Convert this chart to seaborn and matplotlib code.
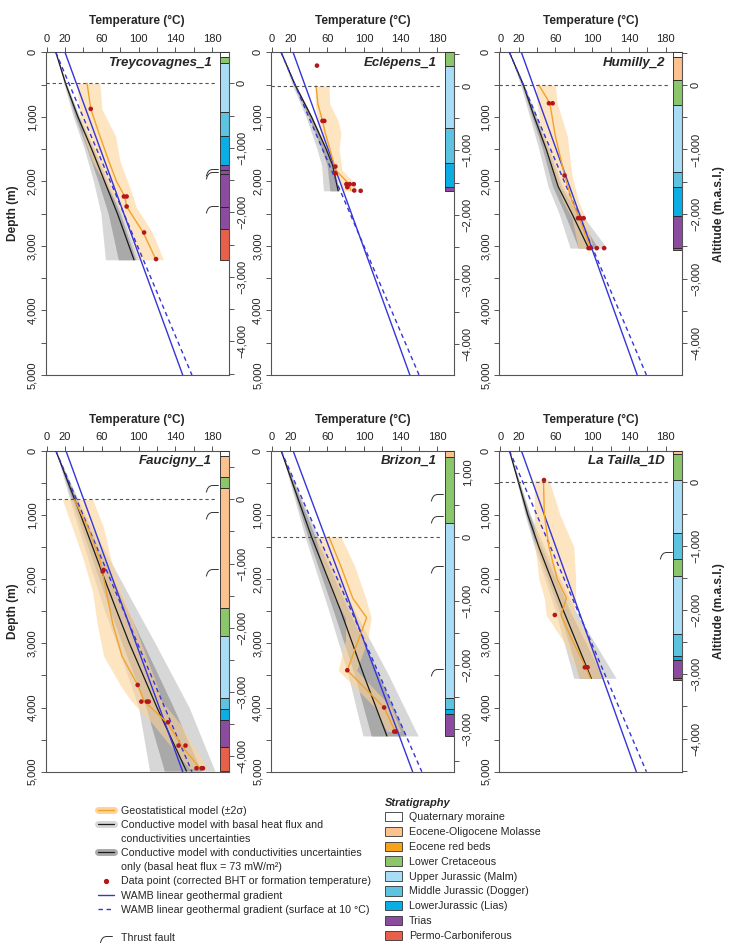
import numpy as np
import matplotlib
matplotlib.use("Agg")
import matplotlib.pyplot as plt
from matplotlib.lines import Line2D
from matplotlib.patches import Patch
from matplotlib.path import Path
import seaborn as sns

# ---- data (depth in m, temperature in degC) ----
STRAT_UNITS = ['Quaternary moraine', 'Eocene-Oligocene Molasse', 'Eocene red beds',
               'Lower Cretaceous', 'Upper Jurassic (Malm)', 'Middle Jurassic (Dogger)',
               'LowerJurassic (Lias)', 'Trias', 'Permo-Carboniferous']
STRAT_COLORS = ['#FFFFFF', '#FBC28F', '#F6A31B', '#8CC66B', '#A9DDF6',
                '#5CC3E0', '#0BAEE4', '#8B4C9F', '#E8604A']

TEMP_TICKS = [0, 20, 40, 60, 80, 100, 120, 140, 160, 180]
TEMP_LABELS = ['0', '20', '', '60', '', '100', '', '140', '', '180']
DEPTH_TICKS = [0, 1000, 2000, 3000, 4000, 5000]
DEPTH_LABELS = ['0', '1,000', '2,000', '3,000', '4,000', '5,000']
WAMB_D = [0, 5000]

# Treycovagnes_1
trey_ground = 480
trey_strat_top = [0, 67, 170, 919, 1296, 1740, 1830, 1880, 2400, 2740]
trey_strat_bot = [67, 170, 919, 1296, 1740, 1830, 1880, 2400, 2740, 3215]
trey_strat_unit = [0, 3, 4, 5, 6, 7, 7, 7, 7, 8]
trey_faults = [1820, 1875, 2395]
trey_cond_d = [0, 500, 1000, 1500, 2000, 2500, 3215]
trey_cond_t = [10, 21, 34, 49, 63, 77, 95]
trey_out_lo = [10, 19, 29, 41, 51, 59, 64]
trey_out_hi = [10, 22, 36, 52, 67, 82, 100]
trey_in_lo = [10, 20, 31, 44, 56, 67, 78]
trey_in_hi = [10, 21.5, 35, 51, 65, 80, 97]
trey_geo_d = [480, 877, 1300, 1700, 2000, 2234, 2389, 2792, 3215]
trey_geo_t = [44, 48, 58, 68, 76, 85, 87, 105, 119]
trey_geo_lo = [33, 35, 40, 50, 62, 72, 78, 90, 100]
trey_geo_hi = [58, 60, 75, 80, 88, 94, 97, 115, 127]
trey_pts_d = [877, 2234, 2234, 2389, 2792, 3204]
trey_pts_t = [48, 84, 87, 87, 106, 119]
trey_wamb = [20, 148]
trey_wamb10 = [10, 158]

# Eclepens_1
ecl_ground = 520
ecl_strat_top = [0, 220, 1176, 1710, 2080]
ecl_strat_bot = [220, 1176, 1710, 2080, 2146]
ecl_strat_unit = [3, 4, 5, 6, 7]
ecl_faults = []
ecl_cond_d = [0, 500, 1000, 1500, 1750, 2146]
ecl_cond_t = [10, 25, 43, 59, 66, 72]
ecl_out_lo = [10, 22, 37, 49, 54, 56]
ecl_out_hi = [10, 26, 44, 60, 67, 74]
ecl_in_lo = [10, 23.5, 40, 54, 60, 63]
ecl_in_hi = [10, 25.5, 43.5, 59.5, 66.5, 73]
ecl_geo_d = [521, 800, 1063, 1250, 1500, 1700, 1821, 2028, 2146]
ecl_geo_t = [48, 50, 55, 58, 63, 67, 69, 83, 86]
ecl_geo_lo = [47, 47, 50, 53, 58, 64, 66, 74, 77]
ecl_geo_hi = [62, 63, 72, 75, 73, 75, 76, 90, 91]
ecl_pts_d = [206, 1063, 1063, 1770, 1873, 2043, 2043, 2043, 2090, 2141, 2146]
ecl_pts_t = [49, 55, 57, 69, 69, 81, 84.6, 89, 82, 89.5, 96.5]
ecl_wamb = [23, 150]
ecl_wamb10 = [10, 160]

# Humilly_2
hum_ground = 506
hum_strat_top = [0, 77, 428, 815, 1847, 2090, 2534, 3034]
hum_strat_bot = [77, 428, 815, 1847, 2090, 2534, 3034, 3060]
hum_strat_unit = [0, 1, 3, 4, 5, 6, 7, 8]
hum_faults = []
hum_cond_d = [0, 500, 1000, 1500, 2080, 2500, 3034]
hum_cond_t = [10, 25, 37, 50, 63, 78, 96]
hum_out_lo = [10, 22, 32, 42, 52, 64, 76]
hum_out_hi = [10, 26, 40, 54, 68, 88, 116]
hum_in_lo = [10, 23.5, 34.5, 46, 57, 70, 85]
hum_in_hi = [10, 25.5, 38.5, 52, 66, 84, 106]
hum_geo_d = [506, 790, 1300, 1909, 2300, 2570, 3034]
hum_geo_t = [42, 54, 60, 70, 78, 86, 98]
hum_geo_lo = [39, 40, 45, 58, 68, 78, 85]
hum_geo_hi = [60, 62, 73, 78, 85, 93, 101]
hum_pts_d = [790, 790, 1909, 2570, 2570, 2570, 3034, 3034, 3034, 3034]
hum_pts_t = [53, 57, 70, 84.6, 87, 90.7, 96, 98, 105, 113]
hum_wamb = [23, 149]
hum_wamb10 = [10, 159]

# Faucigny_1
fau_ground = 758
fau_strat_top = [0, 83, 415, 586, 2455, 2886, 3856, 4022, 4193, 4609]
fau_strat_bot = [83, 415, 586, 2455, 2886, 3856, 4022, 4193, 4609, 4990]
fau_strat_unit = [0, 1, 3, 1, 3, 4, 5, 6, 7, 8]
fau_faults = [550, 976, 1858]
fau_cond_d = [0, 1000, 2000, 2450, 3000, 4000, 4990]
fau_cond_t = [10, 37, 63, 75, 90, 120, 152]
fau_out_lo = [10, 30, 52, 62, 76, 100, 112]
fau_out_hi = [10, 42, 80, 97, 118, 155, 183]
fau_in_lo = [10, 33, 57, 68, 82, 108, 128]
fau_in_hi = [10, 40, 72, 87, 105, 138, 168]
fau_geo_d = [758, 1200, 1700, 2200, 2700, 3200, 3650, 3900, 4250, 4600, 4950]
fau_geo_t = [30, 45, 58, 65, 72, 82, 99, 106, 132, 147, 167]
fau_geo_lo = [17, 28, 40, 50, 55, 62, 80, 92, 115, 135, 155]
fau_geo_hi = [50, 62, 70, 82, 95, 108, 120, 125, 145, 160, 175]
fau_pts_d = [1858, 1880, 3649, 3908, 3908, 3908, 4230, 4593, 4593, 4946, 4946, 4946]
fau_pts_t = [62, 61, 99, 103, 109, 111, 132, 143.5, 151, 163, 168.5, 170]
fau_wamb = [21, 148]
fau_wamb10 = [10, 158]

# Brizon_1
bri_ground = 1340
bri_strat_top = [0, 104, 1121, 3856, 4022, 4105]
bri_strat_bot = [104, 1121, 3856, 4022, 4105, 4443]
bri_strat_unit = [1, 3, 4, 5, 6, 7]
bri_faults = [690, 1028, 1806, 3415]
bri_cond_d = [0, 1340, 2500, 3500, 4443]
bri_cond_t = [10, 43, 75, 100, 125]
bri_out_lo = [10, 36, 62, 83, 99]
bri_out_hi = [10, 50, 90, 127, 159]
bri_in_lo = [10, 39, 67, 90, 108]
bri_in_hi = [10, 47, 84, 116, 146]
bri_geo_d = [1340, 1800, 2300, 2600, 2950, 3420, 4000, 4375]
bri_geo_t = [62, 75, 88, 103, 94, 82, 122, 134]
bri_geo_lo = [47, 55, 68, 80, 80, 72, 112, 125]
bri_geo_hi = [75, 90, 102, 108, 104, 92, 130, 140]
bri_pts_d = [3420, 4000, 4375, 4375]
bri_pts_t = [82, 122, 133, 135]
bri_wamb = [23, 153]
bri_wamb10 = [10, 163]

# La Tailla_1D
lat_ground = 483
lat_strat_top = [0, 52, 457, 1287, 1692, 1951, 2855, 3197, 3259, 3545]
lat_strat_bot = [52, 457, 1287, 1692, 1951, 2855, 3197, 3259, 3545, 3565]
lat_strat_unit = [1, 3, 4, 5, 3, 4, 5, 6, 7, 8]
lat_faults = [1599]
lat_cond_d = [0, 1000, 1500, 2500, 3545]
lat_cond_t = [10, 30, 42, 69, 99]
lat_out_lo = [10, 27, 37, 60, 80]
lat_out_hi = [10, 33, 48, 82, 126]
lat_in_lo = [10, 28, 39, 64, 86]
lat_in_hi = [10, 32, 45, 76, 112]
lat_geo_d = [457, 1000, 1500, 2000, 2300, 2559, 3000, 3374, 3545]
lat_geo_t = [47, 48, 53, 62, 72, 66, 80, 93, 98]
lat_geo_lo = [37, 37, 38, 42, 48, 50, 70, 82, 86]
lat_geo_hi = [53, 65, 80, 82, 82, 80, 100, 108, 112]
lat_pts_d = [457, 2559, 3374, 3374]
lat_pts_t = [47.6, 59.4, 92, 95]
lat_wamb = [23, 148]
lat_wamb10 = [10, 159]

LEGEND_LABELS = ['Geostatistical model (\u00b12\u03c3)',
                 'Conductive model with basal heat flux and',
                 'conductivities uncertainties',
                 'Conductive model with conductivities uncertainties',
                 'only (basal heat flux = 73 mW/m\u00b2)',
                 'Data point (corrected BHT or formation temperature)',
                 'WAMB linear geothermal gradient',
                 'WAMB linear geothermal gradient (surface at 10 \u00b0C)',
                 '',
                 'Thrust fault']

# ---- styles ----
sns.set_theme(style="ticks")
plt.rcParams['font.family'] = ['Liberation Sans', 'DejaVu Sans']
AX_COLOR = '#555555'
GRAY_OUT = '#D7D7D7'
GRAY_IN = '#A9A9A9'
GEO_BAND = '#FCD49A'
GEO_LINE = '#F2A22C'
BLUE = '#3535D8'
RED = '#B5161B'
DASH = (0, (3.2, 2.6))
FAULT = Path([(-1.0, -0.95), (-0.8, -0.35), (-0.5, 0.02), (-0.1, 0.16), (1.0, 0.16)])
TICK_FS = 8
LABEL_FS = 8.6

PANELS = [
    dict(name='Treycovagnes_1', ground=trey_ground, top=trey_strat_top, bot=trey_strat_bot,
         unit=trey_strat_unit, faults=trey_faults, cd=trey_cond_d, ct=trey_cond_t,
         olo=trey_out_lo, ohi=trey_out_hi, ilo=trey_in_lo, ihi=trey_in_hi,
         gd=trey_geo_d, gt=trey_geo_t, glo=trey_geo_lo, ghi=trey_geo_hi,
         pd=trey_pts_d, pt=trey_pts_t, w=trey_wamb, w10=trey_wamb10),
    dict(name='Ecl\u00e9pens_1', ground=ecl_ground, top=ecl_strat_top, bot=ecl_strat_bot,
         unit=ecl_strat_unit, faults=ecl_faults, cd=ecl_cond_d, ct=ecl_cond_t,
         olo=ecl_out_lo, ohi=ecl_out_hi, ilo=ecl_in_lo, ihi=ecl_in_hi,
         gd=ecl_geo_d, gt=ecl_geo_t, glo=ecl_geo_lo, ghi=ecl_geo_hi,
         pd=ecl_pts_d, pt=ecl_pts_t, w=ecl_wamb, w10=ecl_wamb10),
    dict(name='Humilly_2', ground=hum_ground, top=hum_strat_top, bot=hum_strat_bot,
         unit=hum_strat_unit, faults=hum_faults, cd=hum_cond_d, ct=hum_cond_t,
         olo=hum_out_lo, ohi=hum_out_hi, ilo=hum_in_lo, ihi=hum_in_hi,
         gd=hum_geo_d, gt=hum_geo_t, glo=hum_geo_lo, ghi=hum_geo_hi,
         pd=hum_pts_d, pt=hum_pts_t, w=hum_wamb, w10=hum_wamb10),
    dict(name='Faucigny_1', ground=fau_ground, top=fau_strat_top, bot=fau_strat_bot,
         unit=fau_strat_unit, faults=fau_faults, cd=fau_cond_d, ct=fau_cond_t,
         olo=fau_out_lo, ohi=fau_out_hi, ilo=fau_in_lo, ihi=fau_in_hi,
         gd=fau_geo_d, gt=fau_geo_t, glo=fau_geo_lo, ghi=fau_geo_hi,
         pd=fau_pts_d, pt=fau_pts_t, w=fau_wamb, w10=fau_wamb10),
    dict(name='Brizon_1', ground=bri_ground, top=bri_strat_top, bot=bri_strat_bot,
         unit=bri_strat_unit, faults=bri_faults, cd=bri_cond_d, ct=bri_cond_t,
         olo=bri_out_lo, ohi=bri_out_hi, ilo=bri_in_lo, ihi=bri_in_hi,
         gd=bri_geo_d, gt=bri_geo_t, glo=bri_geo_lo, ghi=bri_geo_hi,
         pd=bri_pts_d, pt=bri_pts_t, w=bri_wamb, w10=bri_wamb10),
    dict(name='La Tailla_1D', ground=lat_ground, top=lat_strat_top, bot=lat_strat_bot,
         unit=lat_strat_unit, faults=lat_faults, cd=lat_cond_d, ct=lat_cond_t,
         olo=lat_out_lo, ohi=lat_out_hi, ilo=lat_in_lo, ihi=lat_in_hi,
         gd=lat_geo_d, gt=lat_geo_t, glo=lat_geo_lo, ghi=lat_geo_hi,
         pd=lat_pts_d, pt=lat_pts_t, w=lat_wamb, w10=lat_wamb10),
]

FW, FH = 735, 943
fig = plt.figure(figsize=(FW / 100, FH / 100), dpi=100)
COL_X = [45.7, 271.0, 499.3]
ROW_Y = [(52.3, 375.0), (450.7, 771.7)]
AX_W = 183.0
COL_L, COL_R = 188, 198


def fmt_alt(v):
    return f"{int(v):,}".replace('-', '\u2212')


for i, p in enumerate(PANELS):
    r, c = divmod(i, 3)
    ytop, ybot = ROW_Y[r]
    ax = fig.add_axes([COL_X[c] / FW, 1 - ybot / FH, AX_W / FW, (ybot - ytop) / FH])

    # uncertainty envelopes
    ax.fill_betweenx(p['cd'], p['olo'], p['ohi'], color=GRAY_OUT, lw=0, zorder=1)
    ax.fill_betweenx(p['cd'], p['ilo'], p['ihi'], color=GRAY_IN, lw=0, zorder=1.5)
    ax.fill_betweenx(p['gd'], p['glo'], p['ghi'], color=GEO_BAND, alpha=0.6, lw=0, zorder=2)

    sns.lineplot(x=p['ct'], y=p['cd'], orient='y', sort=False, estimator=None,
                 color='#1a1a1a', lw=0.9, ax=ax, zorder=3)
    sns.lineplot(x=p['w'], y=WAMB_D, orient='y', sort=False, estimator=None,
                 color=BLUE, lw=1.0, ax=ax, zorder=4)
    sns.lineplot(x=p['w10'], y=WAMB_D, orient='y', sort=False, estimator=None,
                 color=BLUE, lw=1.0, linestyle=DASH, ax=ax, zorder=4)
    sns.lineplot(x=p['gt'], y=p['gd'], orient='y', sort=False, estimator=None,
                 color=GEO_LINE, lw=1.0, ax=ax, zorder=4.5)
    sns.scatterplot(x=p['pt'], y=p['pd'], color=RED, s=11, edgecolor='none',
                    ax=ax, zorder=6)

    # sea level
    ax.axhline(p['ground'], xmin=0, xmax=0.935, color='#555555', lw=0.8,
               linestyle=(0, (3, 2.5)), zorder=5)

    # stratigraphic column
    heights = np.array(p['bot']) - np.array(p['top'])
    ax.barh(p['top'], COL_R - COL_L, height=heights, left=COL_L, align='edge',
            color=[STRAT_COLORS[u] for u in p['unit']], edgecolor='#222222',
            linewidth=0.6, zorder=7, clip_on=False)
    if p['faults']:
        ax.plot([COL_L - 8] * len(p['faults']), p['faults'], linestyle='none',
                marker=FAULT, markersize=9, markerfacecolor='none',
                markeredgecolor='#333333', markeredgewidth=0.7, zorder=7)

    ax.set_xlim(-1, COL_R)
    ax.set_ylim(5000, 0)
    ax.set_xlabel('')
    ax.set_ylabel('')

    ax.xaxis.tick_top()
    ax.xaxis.set_label_position('top')
    ax.set_xticks(TEMP_TICKS)
    ax.set_xticklabels(TEMP_LABELS)
    ax.set_xlabel('Temperature (\u00b0C)', fontsize=LABEL_FS, fontweight='bold', labelpad=7)
    ax.set_yticks(DEPTH_TICKS)
    ax.set_yticklabels(DEPTH_LABELS)
    ax.set_yticks(np.arange(500, 5000, 1000), minor=True)
    ax.tick_params(axis='both', which='both', direction='out', length=3.5, width=0.7,
                   color=AX_COLOR, labelsize=TICK_FS, labelcolor='#222222', pad=2.5)
    ax.tick_params(axis='x', which='both', top=True, bottom=False)
    ax.tick_params(axis='y', which='both', left=True, right=False)
    for lab in ax.get_yticklabels():
        lab.set_rotation(90)
        lab.set_va('center')
    for side in ['left', 'top', 'bottom']:
        ax.spines[side].set_color(AX_COLOR)
        ax.spines[side].set_linewidth(0.8)
    ax.spines['right'].set_visible(False)

    ax.text(0.905, 0.967, p['name'], transform=ax.transAxes, ha='right', va='center',
            fontsize=9.5, fontweight='bold', fontstyle='italic', zorder=8)

    if c == 0:
        ax.set_ylabel('Depth (m)', fontsize=LABEL_FS, fontweight='bold', labelpad=6)

    # altitude axis
    ax2 = ax.twinx()
    g = p['ground']
    ax2.set_ylim(g - 5000, g)
    lo_k = int(np.ceil((g - 5000) / 1000.0))
    hi_k = int(np.floor(g / 1000.0))
    major = [k * 1000 for k in range(lo_k, hi_k + 1)]
    minor = [v + 500 for v in range(lo_k * 1000 - 1000, hi_k * 1000 + 1, 1000)
             if g - 5000 <= v + 500 <= g]
    ax2.set_yticks(major)
    ax2.set_yticklabels([fmt_alt(v) for v in major])
    ax2.set_yticks(minor, minor=True)
    ax2.tick_params(axis='y', which='both', direction='out', length=3.5, width=0.7,
                    color=AX_COLOR, labelsize=TICK_FS, labelcolor='#222222', pad=2.5,
                    right=True, left=False)
    for lab in ax2.get_yticklabels():
        lab.set_rotation(90)
        lab.set_va('center')
    for side in ['left', 'top', 'bottom']:
        ax2.spines[side].set_visible(False)
    ax2.spines['right'].set_color(AX_COLOR)
    ax2.spines['right'].set_linewidth(0.8)
    if c == 2:
        ax2.set_ylabel('Altitude (m.a.s.l.)', fontsize=LABEL_FS, fontweight='bold',
                       labelpad=9)

# ---- legends ----
LEG_FS = 7.7
blank = Line2D([], [], color='none')
left_handles = [
    (Line2D([], [], color=GEO_BAND, lw=5), Line2D([], [], color=GEO_LINE, lw=1)),
    (Line2D([], [], color=GRAY_OUT, lw=5), Line2D([], [], color='#1a1a1a', lw=0.9)),
    blank,
    (Line2D([], [], color=GRAY_IN, lw=5), Line2D([], [], color='#1a1a1a', lw=0.9)),
    blank,
    Line2D([], [], color=RED, marker='o', markersize=2.8, linestyle='none'),
    Line2D([], [], color=BLUE, lw=1.0),
    Line2D([], [], color=BLUE, lw=1.0, linestyle=DASH),
    blank,
    Line2D([], [], marker=FAULT, markersize=9, markerfacecolor='none', linestyle='none',
           markeredgecolor='#333333', markeredgewidth=0.7),
]
fig.legend(left_handles, LEGEND_LABELS, loc='upper left',
           bbox_to_anchor=(98 / FW, 1 - 805.5 / FH), frameon=False, fontsize=LEG_FS,
           handlelength=1.5, handletextpad=0.65, labelspacing=0.39, borderpad=0,
           borderaxespad=0)

strat_handles = [Patch(facecolor=col, edgecolor='#333333', lw=0.6) for col in STRAT_COLORS]
fig.legend(strat_handles, STRAT_UNITS, loc='upper left',
           bbox_to_anchor=(385 / FW, 1 - 797.5 / FH), frameon=False, fontsize=LEG_FS,
           title='Stratigraphy', alignment='left',
           title_fontproperties={'weight': 'bold', 'style': 'italic', 'size': 8},
           handlelength=1.6, handleheight=1.0, handletextpad=0.65, labelspacing=0.41,
           borderpad=0, borderaxespad=0)

fig.savefig('out.png', dpi=100)
